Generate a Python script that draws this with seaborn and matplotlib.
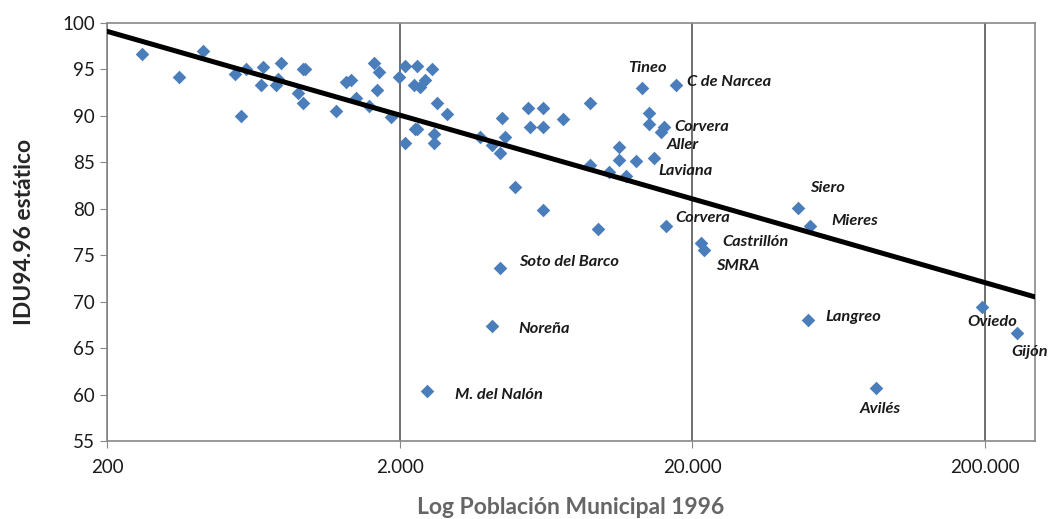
import numpy as np
import pandas as pd
import matplotlib
matplotlib.use("Agg")
import matplotlib.pyplot as plt
import matplotlib.ticker as mticker
import seaborn as sns

# municipios sin etiqueta: poblacion 1996 e IDU94.96
pob_resto = [263, 353, 424, 547, 596, 572, 680, 669, 755, 768, 783, 899, 938, 935, 950,
             1209, 1308, 1368, 1423, 1572, 1630, 1700, 1666, 1874, 1990, 2080, 2080,
             2292, 2579, 2232, 2354, 2434, 2682, 2910, 2250, 2290, 2618, 2618,
             3750, 4144, 4388, 4576, 4482, 5482, 6166, 5586, 6166, 7216, 8952,
             4966, 6166, 9534, 8952, 10336, 11178, 11178, 11874, 12846, 14190, 14190]
idu_resto = [96.7, 94.15, 97.0, 94.5, 95.05, 90.0, 95.3, 93.3, 93.3, 94.0, 95.66, 92.5, 91.4, 95.05, 95.05,
             90.56, 93.6, 93.9, 91.9, 91.07, 95.73, 94.76, 92.8, 89.9, 94.2, 95.4, 87.1,
             95.4, 95.05, 93.3, 93.1, 93.9, 91.36, 90.2, 88.56, 88.56, 88.1, 87.1,
             87.7, 86.9, 86.0, 87.76, 89.74, 90.8, 90.8, 88.84, 88.84, 89.67, 91.36,
             82.3, 79.87, 77.86, 84.7, 84.0, 86.6, 85.2, 83.5, 85.15, 90.28, 89.1]

# municipios con etiqueta
nombres = ["Tineo", "C de Narcea", "Corvera", "Aller", "Laviana", "Corvera",
           "Castrillón", "SMRA", "Soto del Barco", "Noreña", "M. del Nalón",
           "Siero", "Mieres", "Langreo", "Avilés", "Oviedo", "Gijón"]
pob_etiq = [13396, 17598, 16050, 15640, 14758, 16266,
            21420, 21980, 4388, 4144, 2480,
            45760, 50540, 49480, 84720, 194280, 256600]
idu_etiq = [93.04, 93.3, 88.84, 88.3, 85.5, 78.15,
            76.3, 75.6, 73.6, 67.4, 60.4,
            80.1, 78.15, 68.0, 60.7, 69.46, 66.66]

# linea de tendencia logaritmica: IDU = a + b * log10(poblacion)
tend_a = 119.86
tend_b = -9.02

# desplazamiento del texto (pixeles) y alineacion
desplaz = [(6, 20, "center"), (11, 3, "left"), (10, 0, "left"), (5, -13, "left"),
           (5, -13, "left"), (9, 8, "left"), (21, 1, "left"), (12, -16, "left"),
           (19, 6, "left"), (26, -3, "left"), (28, -4, "left"), (12, 20, "left"),
           (21, 5, "left"), (18, 3, "left"), (4, -21, "center"), (11, -15, "center"),
           (13, -19, "center")]

df = pd.DataFrame({"Poblacion": pob_resto + pob_etiq, "IDU": idu_resto + idu_etiq})

sns.set_style("ticks")
plt.rcParams["font.family"] = ["Lato", "DejaVu Sans"]

fig = plt.figure(figsize=(10.49, 5.19), dpi=100)
ax = fig.add_axes([0.102, 0.1503, 0.8847, 0.8054])
ax.set_xscale("log")
ax.set_xlim(200, 296000)
ax.set_ylim(55, 100)

sns.scatterplot(data=df, x="Poblacion", y="IDU", marker="D", s=48, color="#4A7EBB",
                linewidth=0, zorder=3, ax=ax)

xs = np.logspace(np.log10(200), np.log10(296000), 50)
trend = pd.DataFrame({"Poblacion": xs, "IDU": tend_a + tend_b * np.log10(xs)})
sns.lineplot(data=trend, x="Poblacion", y="IDU", color="black", lw=3.6, zorder=4, ax=ax)

for n, px, py, (dx, dy, ha) in zip(nombres, pob_etiq, idu_etiq, desplaz):
    ax.annotate(n, (px, py), xytext=(dx, dy), textcoords="offset pixels",
                ha=ha, va="center", fontsize=11.8, fontweight="bold", fontstyle="italic",
                color="#1a1a1a", annotation_clip=False)

ax.set_xlim(200, 296000)
ax.set_ylim(55, 100)
ax.xaxis.set_major_locator(mticker.FixedLocator([200, 2000, 20000, 200000]))
ax.xaxis.set_minor_locator(mticker.NullLocator())
ax.xaxis.set_major_formatter(mticker.FuncFormatter(lambda v, p: f"{v:,.0f}".replace(",", ".")))
ax.set_yticks(np.arange(55, 101, 5))
ax.grid(axis="x", color="#555555", lw=1.2)
ax.grid(axis="y", visible=False)

for s in ax.spines.values():
    s.set_color("#888888")
    s.set_linewidth(1.2)
ax.tick_params(axis="both", length=5, color="#888888", labelsize=13.5, labelcolor="#1a1a1a")
ax.tick_params(axis="x", pad=8)

ax.set_ylabel("IDU94.96 estático", fontsize=16.5, fontweight="bold", labelpad=20)
ax.set_xlabel("Log Población Municipal 1996", fontsize=16.5, fontweight="bold",
              color="#666666", labelpad=15)

fig.savefig("out.png", dpi=100)
